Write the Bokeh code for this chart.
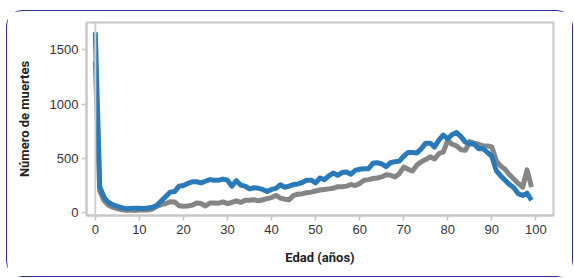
from bokeh.plotting import figure
from bokeh.models import Range1d, Span, FixedTicker
from bokeh.embed import file_html
from bokeh.resources import INLINE

ages = list(range(0, 100))
muertes_azul = [
    1660, 240, 140, 95, 72, 58, 48, 38, 40, 42,
    42, 40, 45, 50, 70, 110, 150, 190, 195, 245,
    250, 270, 285, 285, 275, 290, 305, 300, 300, 310,
    300, 245, 295, 255, 245, 220, 230, 225, 215, 195,
    215, 225, 258, 235, 245, 260, 265, 280, 300, 300,
    275, 320, 305, 340, 365, 345, 370, 375, 355, 390,
    400, 405, 405, 455, 460, 450, 425, 460, 470, 475,
    520, 555, 555, 550, 590, 640, 640, 605, 670, 715,
    680, 720, 737, 700, 650, 635, 630, 590, 590, 555,
    520, 390, 340, 300, 260, 230, 175, 160, 180, 115,
]
muertes_gris = [
    1390, 200, 110, 70, 50, 38, 28, 22, 25, 22,
    25, 28, 25, 35, 60, 75, 85, 102, 100, 65,
    60, 62, 70, 90, 85, 62, 90, 90, 88, 100,
    85, 95, 110, 95, 115, 115, 120, 110, 120, 130,
    140, 160, 135, 125, 120, 160, 170, 175, 185, 190,
    200, 210, 215, 220, 225, 240, 240, 245, 260, 250,
    270, 300, 305, 315, 320, 330, 350, 345, 330, 360,
    420, 400, 385, 440, 470, 490, 515, 495, 545, 560,
    665, 630, 615, 580, 575, 655, 640, 630, 615, 615,
    605, 480, 430, 400, 350, 310, 270, 235, 395, 235,
]
x_ticks = [0, 10, 20, 30, 40, 50, 60, 70, 80, 90, 100]
y_ticks = [0, 500, 1000, 1500]

p = figure(
    frame_width=467, frame_height=193,
    min_border_left=79, min_border_right=19, min_border_top=11, min_border_bottom=61,
    x_range=Range1d(-2, 104), y_range=Range1d(-25, 1750),
    output_backend="svg", toolbar_location=None,
)
p.styles = {"border": "1.5px solid #2e3192", "border-radius": "16px",
            "margin-top": "10px", "margin-left": "6px"}

p.xgrid.visible = False
p.ygrid.visible = False
p.outline_line_color = "#c8c8c8"
p.outline_line_width = 2

p.add_layout(Span(location=0, dimension="height", line_color="#d0d0d0", line_width=2))

p.line(ages, muertes_gris, line_color="#858585", line_width=5, line_join="round")
p.line(ages, muertes_azul, line_color="#2a7ab9", line_width=5, line_join="round")

for ax in (p.xaxis[0], p.yaxis[0]):
    ax.axis_line_color = "#c8c8c8"
    ax.axis_line_width = 2
    ax.major_tick_line_color = "#c8c8c8"
    ax.major_tick_line_width = 1.5
    ax.major_tick_out = 5
    ax.major_tick_in = 0
    ax.minor_tick_line_color = None
    ax.major_label_text_font = "Liberation Sans"
    ax.major_label_text_font_size = "13px"
    ax.major_label_text_color = "#333333"
    ax.axis_label_text_font = "Roboto"
    ax.axis_label_text_font_style = "bold"
    ax.axis_label_text_font_size = "13px"
    ax.axis_label_text_color = "#222222"

p.xaxis.ticker = FixedTicker(ticks=x_ticks)
p.yaxis.ticker = FixedTicker(ticks=y_ticks)
p.xaxis.axis_label = "Edad (años)"
p.yaxis.axis_label = "Número de muertes"
p.xaxis.major_label_standoff = 4
p.xaxis.axis_label_standoff = 13
p.yaxis.major_label_standoff = 3
p.yaxis.axis_label_standoff = 15

open("out.html", "w").write(file_html(p, INLINE))
